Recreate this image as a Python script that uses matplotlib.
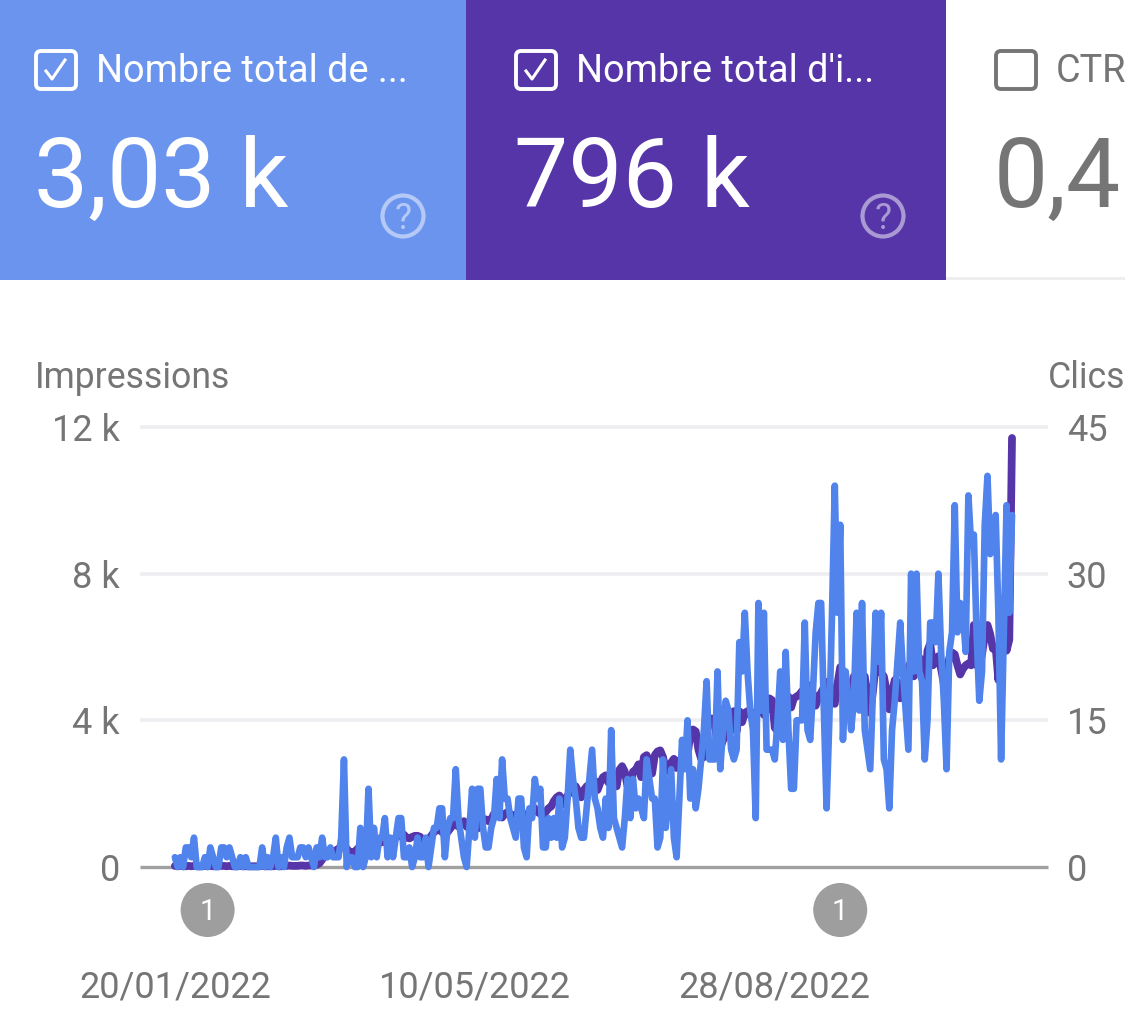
import numpy as np
import matplotlib
matplotlib.use("Agg")
import matplotlib.pyplot as plt
from matplotlib.patches import Rectangle, FancyBboxPatch, Circle

plt.rcParams['font.family'] = ['Roboto', 'DejaVu Sans']

# clics par jour
clics = [
    1, 0, 1, 0, 2, 2, 1, 3, 0, 0,
    0, 1, 0, 2, 1, 0, 0, 2, 2, 1,
    2, 1, 0, 0, 1, 0, 1, 0, 0, 0,
    0, 0, 2, 0, 1, 0, 1, 3, 0, 1,
    0, 2, 3, 1, 1, 1, 2, 2, 1, 2,
    1, 0, 2, 1, 3, 1, 1, 2, 1, 1,
    1, 3, 11, 0, 1, 1, 0, 0, 4, 0,
    1, 8, 1, 4, 1, 3, 3, 5, 1, 3,
    1, 3, 5, 5, 1, 1, 2, 0, 1, 3,
    1, 1, 3, 0, 2, 4, 4, 6, 6, 1,
    4, 5, 5, 10, 5, 3, 1, 0, 4, 8,
    3, 8, 8, 4, 2, 2, 4, 5, 9, 5,
    11, 7, 7, 5, 4, 3, 7, 7, 2, 1,
    6, 5, 9, 7, 8, 2, 2, 5, 3, 5,
    3, 7, 2, 3, 7, 12, 9, 7, 4, 3,
    3, 6, 9, 12, 7, 6, 4, 3, 7, 4,
    14, 5, 4, 3, 2, 5, 9, 5, 9, 6,
    7, 6, 5, 11, 9, 7, 7, 2, 3, 11,
    4, 7, 10, 3, 1, 7, 13, 10, 15, 7,
    10, 6, 8, 11, 14, 19, 11, 11, 11, 20,
    10, 14, 17, 16, 12, 11, 12, 23, 20, 26,
    20, 16, 14, 5, 27, 16, 26, 12, 12, 12,
    11, 15, 20, 13, 22, 14, 8, 8, 15, 15,
    15, 25, 14, 13, 18, 24, 27, 27, 16, 6,
    15, 26, 39, 26, 35, 13, 20, 17, 14, 17,
    26, 16, 27, 14, 12, 10, 18, 26, 21, 26,
    11, 10, 6, 14, 17, 21, 25, 20, 16, 12,
    30, 20, 30, 20, 19, 11, 15, 25, 25, 23,
    30, 22, 17, 10, 22, 24, 37, 24, 27, 26,
    22, 38, 33, 34, 24, 17, 20, 35, 40, 32,
    33, 36, 26, 11, 24, 37, 26, 36,
]

# impressions par jour, en milliers
impressions = [
    0.03, 0.02, 0.03, 0.02, 0.02, 0.03, 0.02, 0.03, 0.02, 0.02,
    0.02, 0.03, 0.02, 0.03, 0.02, 0.02, 0.02, 0.03, 0.03, 0.02,
    0.03, 0.02, 0.02, 0.02, 0.03, 0.02, 0.02, 0.02, 0.02, 0.02,
    0.02, 0.02, 0.03, 0.02, 0.02, 0.02, 0.02, 0.03, 0.02, 0.02,
    0.03, 0.03, 0.04, 0.03, 0.03, 0.03, 0.04, 0.04, 0.03, 0.04,
    0.04, 0.04, 0.06, 0.10, 0.20, 0.30, 0.35, 0.35, 0.40, 0.45,
    0.50, 0.55, 0.52, 0.50, 0.42, 0.40, 0.42, 0.50, 0.55, 0.52,
    0.50, 0.55, 0.58, 0.60, 0.62, 0.65, 0.70, 0.68, 0.66, 0.72,
    0.75, 0.80, 0.85, 0.90, 0.88, 0.80, 0.78, 0.82, 0.85, 0.85,
    0.82, 0.70, 0.62, 0.75, 0.85, 0.95, 1.00, 1.02, 0.95, 0.90,
    0.95, 1.05, 1.15, 1.18, 1.10, 1.20, 1.25, 1.10, 1.05, 1.20,
    1.10, 1.05, 1.15, 1.25, 1.30, 1.25, 1.30, 1.45, 1.48, 1.40,
    1.35, 1.45, 1.50, 1.45, 1.38, 1.42, 1.50, 1.55, 1.40, 1.35,
    1.45, 1.55, 1.60, 1.50, 1.45, 1.42, 1.50, 1.60, 1.65, 1.80,
    1.90, 1.95, 1.85, 1.70, 1.95, 2.05, 2.15, 2.20, 2.05, 1.90,
    2.10, 2.20, 2.25, 2.30, 2.35, 2.10, 2.30, 2.45, 2.50, 2.30,
    2.55, 2.40, 2.20, 2.65, 2.75, 2.60, 2.20, 2.10, 2.60, 2.65,
    2.80, 2.45, 3.00, 3.05, 2.85, 2.55, 3.05, 3.15, 3.18, 3.00,
    2.65, 2.60, 2.85, 2.95, 2.70, 2.85, 3.00, 2.85, 3.05, 3.60,
    3.75, 3.70, 3.20, 2.95, 3.00, 3.70, 4.00, 4.05, 3.90, 3.35,
    3.25, 3.45, 3.60, 3.95, 4.20, 4.25, 3.70, 4.25, 3.95, 4.20,
    4.25, 4.15, 4.20, 4.10, 4.35, 4.30, 4.15, 4.30, 4.60, 4.55,
    3.80, 3.70, 4.20, 4.45, 4.60, 4.65, 4.35, 4.60, 4.65, 4.70,
    4.80, 4.60, 4.85, 4.95, 4.70, 4.40, 4.65, 4.75, 4.90, 5.05,
    5.00, 4.50, 4.45, 5.00, 5.45, 5.35, 4.95, 4.55, 4.85, 5.20,
    5.00, 4.80, 5.10, 5.20, 4.65, 4.20, 4.80, 5.50, 5.55, 5.30,
    5.20, 4.80, 4.30, 4.75, 5.10, 5.05, 4.60, 5.00, 4.65, 5.45,
    5.60, 5.20, 5.65, 5.70, 5.65, 4.80, 5.90, 6.10, 5.50, 5.60,
    5.75, 5.40, 5.00, 5.40, 5.70, 5.85, 5.80, 5.50, 5.25, 5.40,
    5.50, 5.55, 5.50, 6.60, 5.50, 5.45, 5.80, 6.30, 6.60, 6.35,
    5.95, 6.00, 5.10, 6.90, 6.90, 5.90, 6.20, 11.70,
]

jours = np.arange(len(clics))
ticks_jours = [0, 110, 220]
ticks_dates = ['20/01/2022', '10/05/2022', '28/08/2022']
ticks_impr = [0, 4, 8, 12]
labels_impr = ['0', '4 k', '8 k', '12 k']
ticks_clics = [0, 15, 30, 45]
labels_clics = ['0', '15', '30', '45']
jours_annotation = [12, 244]

W, H = 1125, 1034
BLEU_CARTE = '#6a94ee'
VIOLET = '#5635a8'
BLEU = '#5083ec'
GRIS = '#757575'

fig = plt.figure(figsize=(W / 100, H / 100), dpi=100, facecolor='white')

# zone du graphique en pixels : x 140-1048, y 427-867
ax = fig.add_axes([140 / W, 1 - 867 / H, 908 / W, 440 / H])
ax.set_xlim(-12.8, 320.2)
ax.set_ylim(0, 12)
ax.set_yticks(ticks_impr)
ax.set_yticklabels(labels_impr, fontsize=26, color=GRIS)
ax.set_xticks(ticks_jours)
ax.set_xticklabels(ticks_dates, fontsize=26, color=GRIS)
ax.tick_params(axis='y', length=0, pad=14.5)
ax.tick_params(axis='x', length=0, pad=74)
for s in ax.spines.values():
    s.set_visible(False)
for v in ticks_impr[1:]:
    ax.axhline(v, color='#eeeef2', lw=2.6, zorder=0, clip_on=False, solid_capstyle='butt')
ax.axhline(0, color='#a0a0a0', lw=2.4, zorder=1, clip_on=False, solid_capstyle='butt')
ax.plot(jours, impressions, color=VIOLET, lw=5.6, solid_joinstyle='round',
        solid_capstyle='round', zorder=2, clip_on=False)

ax2 = ax.twinx()
ax2.set_ylim(0, 45)
ax2.set_yticks(ticks_clics)
ax2.set_yticklabels(labels_clics, fontsize=26, color=GRIS)
ax2.tick_params(axis='y', length=0, pad=13.5)
for s in ax2.spines.values():
    s.set_visible(False)
ax2.plot(jours, clics, color=BLEU, lw=4.8, solid_joinstyle='round',
         solid_capstyle='round', zorder=3, clip_on=False)

# calque en pixels pour les cartes et les annotations
ui = fig.add_axes([0, 0, 1, 1], zorder=5)
ui.set_xlim(0, W)
ui.set_ylim(H, 0)
ui.axis('off')
ui.patch.set_alpha(0)

ui.add_patch(Rectangle((0, 0), 466, 280, color=BLEU_CARTE, lw=0))
ui.add_patch(Rectangle((466, 0), 480, 280, color=VIOLET, lw=0))
ui.add_patch(Rectangle((946, 277), 179, 3, color='#eeeef0', lw=0))


def carte(x, titre, valeur, coul, coche=True):
    ui.add_patch(FancyBboxPatch((x + 3, 51), 40, 38, boxstyle='round,pad=0,rounding_size=5',
                                fc='none', ec=coul, lw=2.8))
    if coche:
        ui.plot([x + 13, x + 19, x + 32], [71, 79, 60], color=coul, lw=2.2)
    ui.text(x + 63, 82, titre, fontsize=27.3, color=coul, ha='left', va='baseline')
    ui.text(x + 1, 207, valeur, fontsize=69.5, color=coul, ha='left', va='baseline', clip_on=False)


carte(33, 'Nombre total de ...', '3,03 k', 'white')
carte(513, "Nombre total d'i...", '796 k', 'white')
carte(993, 'CTR', '0,4', GRIS, coche=False)

for cx in [403, 883]:
    ui.add_patch(Circle((cx, 216), 20.5, fc='none', ec='white', lw=3, alpha=0.5))
    ui.text(cx, 229, '?', fontsize=26, color='white', alpha=0.5, ha='center', va='baseline')

ui.text(35, 388, 'Impressions', fontsize=25.7, color=GRIS, ha='left', va='baseline')
ui.text(1048, 388, 'Clics', fontsize=25.7, color=GRIS, ha='left', va='baseline')

# pastilles d'annotation placées d'après l'axe des jours
for j in jours_annotation:
    px = ax.transData.transform((j, 0))[0]
    ui.add_patch(Circle((px, 910), 27, fc='#9e9e9e', ec='none'))
    ui.text(px, 920, '1', fontsize=21, color='white', ha='center', va='baseline')

fig.savefig('out.png', dpi=100)
